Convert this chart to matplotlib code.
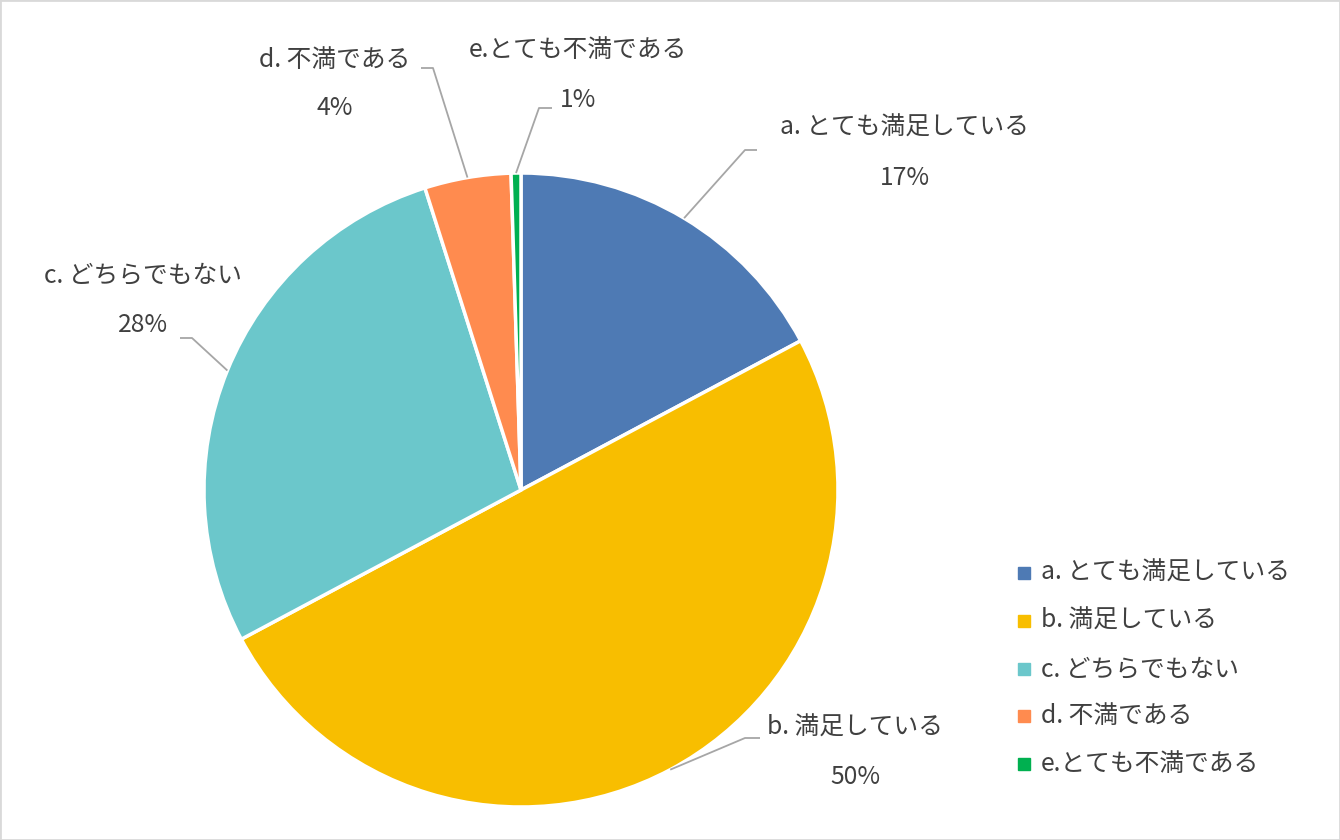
import numpy as np
import matplotlib.pyplot as plt
from matplotlib.patches import Rectangle

plt.rcParams['font.family'] = ['Noto Sans CJK JP', 'DejaVu Sans']

# data
labels = ['a. とても満足している', 'b. 満足している', 'c. どちらでもない', 'd. 不満である', 'e.とても不満である']
values = [17.2, 50.0, 27.9, 4.4, 0.5]
pct_text = ['17%', '50%', '28%', '4%', '1%']
colors = ['#4E7AB4', '#F8BE00', '#6BC7CB', '#FF8B4F', '#00B050']

W, H = 1340, 840
fig = plt.figure(figsize=(W / 100, H / 100), dpi=100)
ax = fig.add_axes([0, 0, 1, 1])
ax.set_aspect('equal')

cx, cy, R = 521, H - 490, 317
wedges, _ = ax.pie(values, colors=colors, startangle=90, counterclock=False,
                   center=(cx, cy), radius=R, frame=True,
                   wedgeprops=dict(edgecolor='white', linewidth=2.5))
ax.set_xlim(0, W)
ax.set_ylim(0, H)
ax.axis('off')

# label placement (pixels from top-left): name, pct, knee, end of leader
lab_pos = [(905, 128), (855, 728), (143, 275), (335, 60), (578, 50)]
pct_pos = [(905, 178), (855, 777), (143, 325), (335, 108), (578, 100)]
knees = [((745, 150), (757, 150)), ((745, 738), (760, 738)), ((192, 338), (180, 338)),
         ((433, 68), (421, 68)), ((539, 108), (552, 108))]

fs = 17.8
txt_color = '#404040'
for i, w in enumerate(wedges):
    mid = np.deg2rad((w.theta1 + w.theta2) / 2)
    sx, sy = cx + R * np.cos(mid), cy + R * np.sin(mid)
    (kx, ky), (ex, ey) = knees[i]
    ax.plot([sx, kx, ex], [sy, H - ky, H - ey], color='#A6A6A6', lw=1.3,
            solid_capstyle='butt', zorder=1)
    ax.text(lab_pos[i][0], H - lab_pos[i][1], labels[i], ha='center', va='center',
            fontsize=fs, color=txt_color)
    ax.text(pct_pos[i][0], H - pct_pos[i][1], pct_text[i], ha='center', va='center',
            fontsize=fs, color=txt_color)

# legend
leg_y = [573, 621, 669, 716, 764]
for i in range(len(labels)):
    ax.add_patch(Rectangle((1018, H - leg_y[i] - 6), 12, 12, color=colors[i]))
    ax.text(1041, H - leg_y[i], labels[i], ha='left', va='center',
            fontsize=fs, color=txt_color)

# outer border
fig.patches.append(Rectangle((0, 0), 1, 1, transform=fig.transFigure, fill=False,
                             edgecolor='#D9D9D9', linewidth=2))

fig.savefig('out.png', dpi=100, facecolor='white')
